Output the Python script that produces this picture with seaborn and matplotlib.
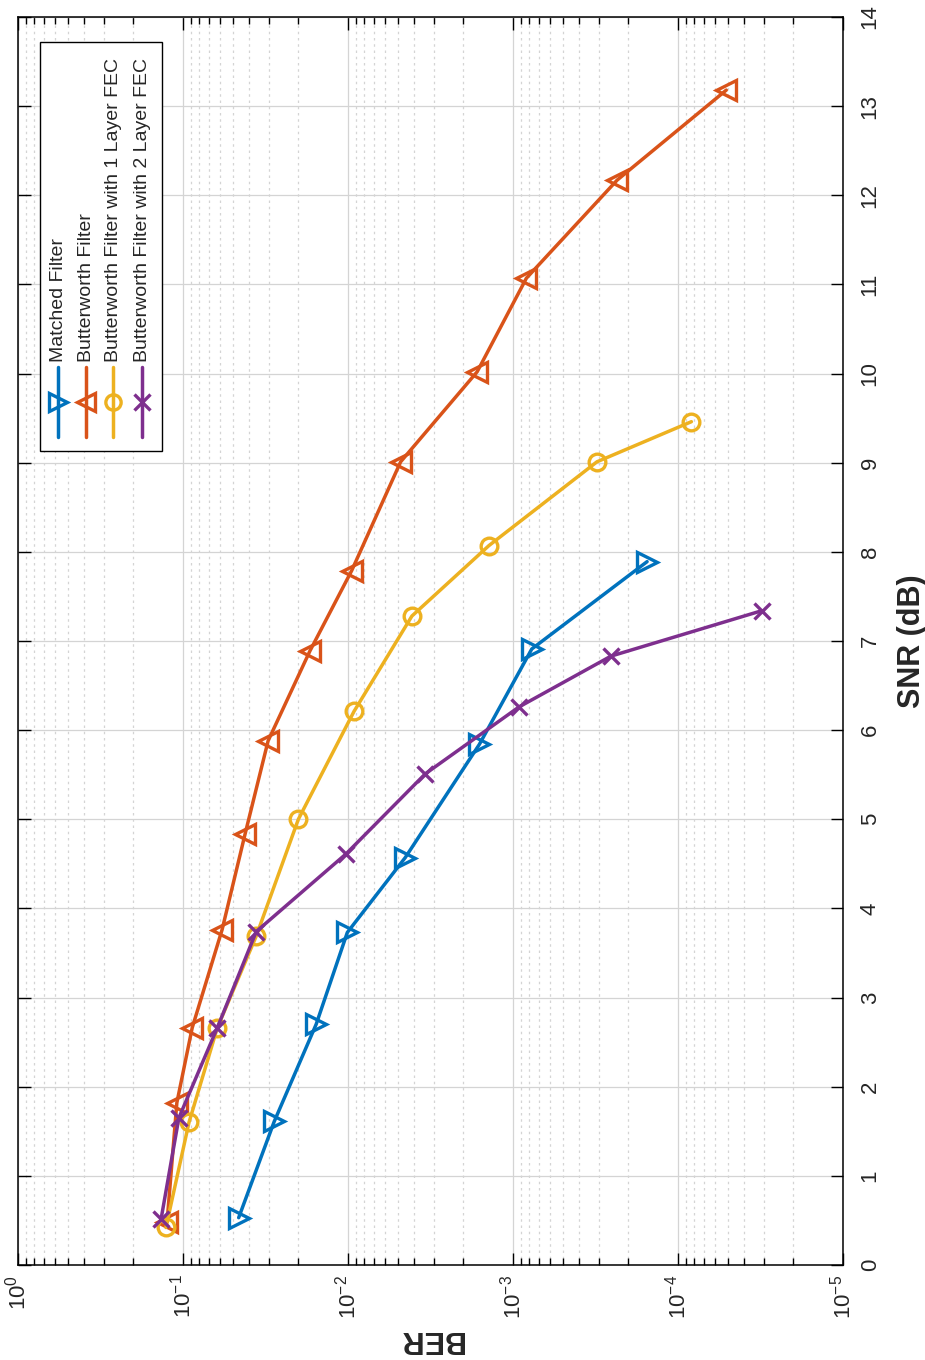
"""
BER vs SNR curves for matched / Butterworth filters (figure rotated 90 deg, as in the paper scan)
"""

import matplotlib
matplotlib.use('Agg')
import matplotlib.pyplot as plt
from matplotlib.ticker import LogLocator, NullFormatter
from matplotlib.patches import Rectangle
import seaborn as sns

# data
snr_matched = [0.53, 1.61, 2.70, 3.73, 4.57, 5.84, 6.91, 7.89]
ber_matched = [4.6e-2, 2.8e-2, 1.56e-2, 1.01e-2, 4.5e-3, 1.6e-3, 7.7e-4, 1.54e-4]

snr_butter = [0.48, 1.82, 2.66, 3.76, 4.84, 5.88, 6.89, 7.79, 9.01, 10.02, 11.07, 12.17, 13.18]
ber_butter = [1.25e-1, 1.09e-1, 8.8e-2, 5.8e-2, 4.2e-2, 3.05e-2, 1.7e-2, 9.5e-3,
              4.8e-3, 1.65e-3, 8.3e-4, 2.34e-4, 5.1e-5]

snr_fec1 = [0.42, 1.60, 2.66, 3.69, 5.00, 6.21, 7.28, 8.07, 9.01, 9.46]
ber_fec1 = [1.27e-1, 9.2e-2, 6.2e-2, 3.6e-2, 2.0e-2, 9.2e-3, 4.1e-3, 1.4e-3, 3.1e-4, 8.3e-5]

snr_fec2 = [0.51, 1.65, 2.66, 3.74, 4.61, 5.51, 6.26, 6.83, 7.34]
ber_fec2 = [1.36e-1, 1.06e-1, 6.2e-2, 3.6e-2, 1.03e-2, 3.4e-3, 9.2e-4, 2.55e-4, 3.1e-5]

labels = ['Matched Filter', 'Butterworth Filter',
          'Butterworth Filter with 1 Layer FEC', 'Butterworth Filter with 2 Layer FEC']
colors = ['#0072BD', '#D95319', '#EDB120', '#7E2F8E']
markers = ['>', '<', 'o', 'x']
ber_ticks = [1e0, 1e-1, 1e-2, 1e-3, 1e-4, 1e-5]
snr_ticks = list(range(0, 15))

sns.set_style('white')
plt.rcParams['font.family'] = ['Liberation Sans', 'DejaVu Sans']
plt.rcParams['mathtext.default'] = 'regular'

fig = plt.figure(figsize=(9.25, 13.6), dpi=100)
ax = fig.add_axes([0.0195, 0.0699, 0.8919, 0.9176])

series = [(ber_matched, snr_matched), (ber_butter, snr_butter),
          (ber_fec1, snr_fec1), (ber_fec2, snr_fec2)]
sizes = [14, 14, 12, 12]
for (ber, snr), lab, col, mk, ms in zip(series, labels, colors, markers, sizes):
    sns.lineplot(x=ber, y=snr, ax=ax, sort=False, estimator=None, color=col,
                 linewidth=2.5, marker=mk, markersize=ms, markerfacecolor='none',
                 markeredgecolor=col, markeredgewidth=2.4, zorder=3)

ax.set_xscale('log')
ax.set_xlim(1e0, 1e-5)
ax.set_ylim(0, 14)
ax.set_xticks(ber_ticks)
ax.xaxis.set_minor_locator(LogLocator(base=10, subs=range(2, 10), numticks=50))
ax.xaxis.set_minor_formatter(NullFormatter())
ax.set_yticks(snr_ticks)

# grid like MATLAB: solid major, dotted minor
ax.grid(True, which='major', color='#d4d4d4', linewidth=0.9, linestyle='-')
ax.grid(True, which='minor', axis='x', color='#d4d4d4', linewidth=0.9, linestyle=(0, (2, 3)))
ax.set_axisbelow(True)

ax.yaxis.tick_right()
ax.yaxis.set_label_position('right')
ax.tick_params(which='both', direction='in', top=True, bottom=True, left=True, right=True,
               labelleft=False, labelright=True, color='black', width=1.0)
ax.tick_params(which='major', length=9)
ax.tick_params(which='minor', length=5)
ax.tick_params(axis='x', labelrotation=90, labelsize=16, pad=7)
ax.tick_params(axis='y', labelrotation=90, labelsize=16, pad=12)
plt.setp(ax.get_yticklabels(), va='center')

for sp in ax.spines.values():
    sp.set_color('black')
    sp.set_linewidth(1.1)

ax.set_xlabel('BER', fontsize=22, fontweight='bold', rotation=180, labelpad=4)
ax.set_ylabel('SNR (dB)', fontsize=22, fontweight='bold', labelpad=12)

# rotated legend, drawn by hand (matplotlib legends cannot be rotated)
ax.add_patch(Rectangle((0.0267, 0.6522), 0.1479, 0.3278, transform=ax.transAxes,
                       facecolor='white', edgecolor='black', linewidth=1.0, zorder=5))
entry_x = [0.0485, 0.0824, 0.1152, 0.1503]
for ex, lab, col, mk, ms in zip(entry_x, labels, colors, markers, sizes):
    ax.plot([ex, ex], [0.6635, 0.7196], transform=ax.transAxes, color=col,
            linewidth=2.5, clip_on=False, zorder=6)
    ax.plot([ex], [0.6915], transform=ax.transAxes, marker=mk, markersize=ms - 1,
            markerfacecolor='none', markeredgecolor=col, markeredgewidth=2.4,
            clip_on=False, zorder=6)
    ax.text(ex + 0.001, 0.7236, lab, transform=ax.transAxes, rotation=90,
            ha='center', va='bottom', fontsize=14, zorder=7)

fig.savefig('out.png', dpi=100)
